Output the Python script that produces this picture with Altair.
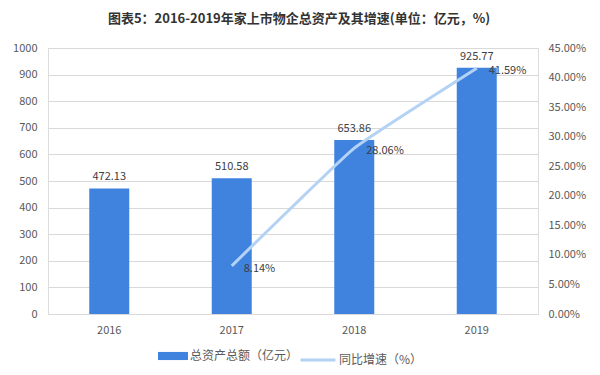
import altair as alt
import pandas as pd

years = ["2016", "2017", "2018", "2019"]
assets = [472.13, 510.58, 653.86, 925.77]
growth = [None, 8.14, 28.06, 41.59]

bar_name = "总资产总额（亿元）"
line_name = "同比增速（%）"

df = pd.DataFrame({"year": years, "assets": assets, "growth": growth})
df["s1"] = bar_name
df["s2"] = line_name

FONT = "Noto Sans CJK SC"
BAR = "#3F83DF"
LINE = "#B3D2F4"
TXT = "#595959"

x = alt.X("year:N", title=None, axis=alt.Axis(labelAngle=0, ticks=False, domain=False,
          labelPadding=10, labelFontSize=11, labelColor=TXT, labelFont=FONT))

left_axis = alt.Axis(values=list(range(0, 1001, 100)), format="d", ticks=False, domain=False,
                     labelPadding=11, labelFontSize=11, labelColor=TXT, labelFont=FONT,
                     gridColor="#D9D9D9", gridWidth=1)
yl = alt.Y("assets:Q", title=None, scale=alt.Scale(domain=[0, 1000]), axis=left_axis)

bars = alt.Chart(df).mark_bar(size=40, color=BAR).encode(
    x=x,
    y=yl,
    color=alt.Color("s1:N", scale=alt.Scale(domain=[bar_name], range=[BAR]),
                    legend=alt.Legend(title=None, orient="none", legendX=110, legendY=293,
                                      symbolType="M-1,-0.27H1V0.27H-1Z", symbolSize=900,
                                      symbolStrokeWidth=0, labelFontSize=12, labelColor=TXT,
                                      labelFont=FONT, labelOffset=2, padding=0)),
)

bar_text = alt.Chart(df).mark_text(baseline="bottom", dy=-6, fontSize=11, color="#404040", font=FONT).encode(
    x=x,
    y=yl,
    text=alt.Text("assets:Q", format=".2f"),
)

left = alt.layer(bars, bar_text)

gdf = df.dropna(subset=["growth"])

right_axis = alt.Axis(orient="right", values=list(range(0, 46, 5)), ticks=False, domain=False,
                      grid=False, labelPadding=10, labelFontSize=11, labelColor=TXT,
                      labelFont=FONT, labelExpr="format(datum.value, '.2f') + '%'")
yr = alt.Y("growth:Q", title=None, scale=alt.Scale(domain=[0, 45]), axis=right_axis)

line = alt.Chart(gdf).mark_line(strokeWidth=3, interpolate="cardinal", tension=0.7, color=LINE).encode(
    x=x,
    y=yr,
    stroke=alt.Stroke("s2:N", scale=alt.Scale(domain=[line_name], range=[LINE]),
                      legend=alt.Legend(title=None, orient="none", legendX=251, legendY=293,
                                        symbolType="stroke", symbolSize=1225,
                                        symbolStrokeWidth=3, labelFontSize=12, labelColor=TXT,
                                        labelFont=FONT, labelOffset=2, padding=0)),
)

line_text = alt.Chart(gdf).transform_calculate(
    lbl="format(datum.growth, '.2f') + '%'"
).mark_text(align="left", baseline="middle", dx=12, dy=3, fontSize=11,
            color="#404040", font=FONT).encode(
    x=x,
    y=yr,
    text="lbl:N",
)

right = alt.layer(line, line_text)

chart = alt.layer(left, right).resolve_scale(y="independent", color="independent", stroke="independent").properties(
    width=490, height=266,
    autosize=alt.AutoSizeParams(type="none"),
    padding={"left": 40, "top": 40, "right": 54, "bottom": 60},
    title=alt.TitleParams("图表5：2016-2019年家上市物企总资产及其增速(单位：亿元，%)",
                          font=FONT, fontSize=13, fontWeight="bold", color="#333333",
                          anchor="middle", offset=16, dx=6),
).configure_view(stroke=None).configure(background="white")

chart.save("out.html", embed_options={"renderer": "svg", "actions": False})
